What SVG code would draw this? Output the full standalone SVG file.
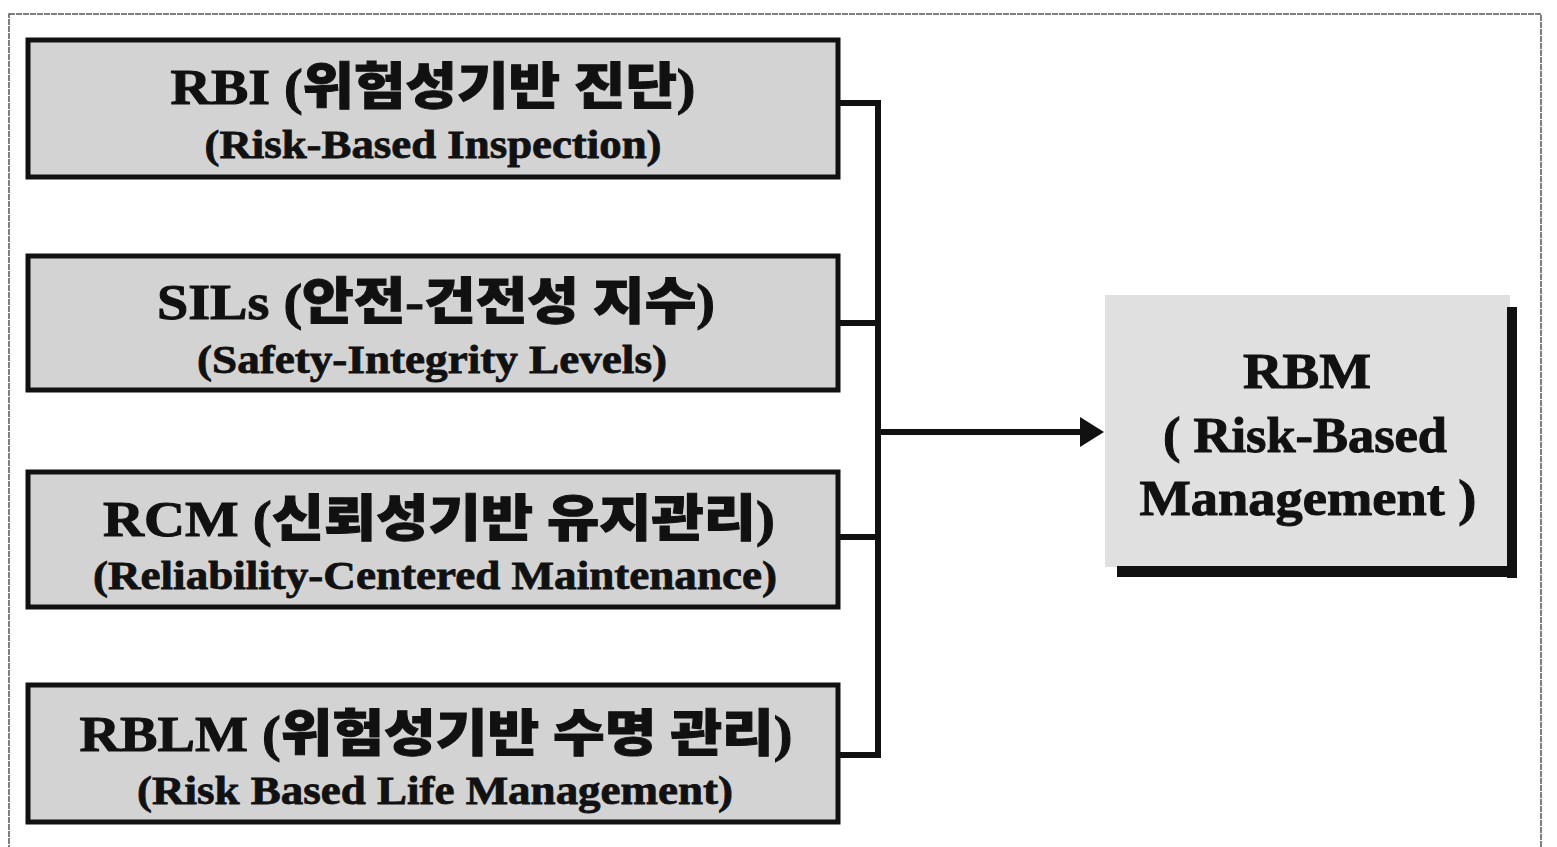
<svg xmlns="http://www.w3.org/2000/svg" width="1557" height="847" viewBox="0 0 1557 847">
<defs>
<style>
.box{fill:#d3d3d3;stroke:#111;stroke-width:5}
.t1{font-family:"Liberation Serif","Noto Sans CJK KR",serif;font-weight:900;font-size:50px;fill:#111;stroke:#111;stroke-width:1;text-anchor:middle}
.t2{font-family:"Liberation Serif","Noto Sans CJK KR",serif;font-weight:900;font-size:41px;fill:#111;stroke:#111;stroke-width:0.8;text-anchor:middle}
.conn{stroke:#111;stroke-width:6;fill:none}
</style>
<marker id="ah" markerWidth="5" markerHeight="5" refX="0" refY="2.5" orient="auto" markerUnits="strokeWidth"><path d="M0,0 L4,2.5 L0,5 Z" fill="#111"/></marker>
</defs>
<rect x="0" y="0" width="1557" height="847" fill="#fff"/>
<rect id="frame" x="9" y="14" width="1532" height="850" fill="none" stroke="#555" stroke-width="1.5" stroke-dasharray="6 1"/>
<g id="rbi">
<rect class="box" x="28" y="40" width="810" height="137"/>
<text class="t1" x="433" y="104" textLength="525" lengthAdjust="spacingAndGlyphs">RBI (위험성기반 진단)</text>
<text class="t2" x="433" y="158" textLength="457" lengthAdjust="spacingAndGlyphs">(Risk-Based Inspection)</text>
</g>
<g id="sils">
<rect class="box" x="28" y="256" width="810" height="134"/>
<text class="t1" x="436" y="319" textLength="558" lengthAdjust="spacingAndGlyphs">SILs (안전-건전성 지수)</text>
<text class="t2" x="432" y="373" textLength="470" lengthAdjust="spacingAndGlyphs">(Safety-Integrity Levels)</text>
</g>
<g id="rcm">
<rect class="box" x="28" y="472" width="810" height="135"/>
<text class="t1" x="439" y="536" textLength="672" lengthAdjust="spacingAndGlyphs">RCM (신뢰성기반 유지관리)</text>
<text class="t2" x="435" y="589" textLength="684" lengthAdjust="spacingAndGlyphs">(Reliability-Centered Maintenance)</text>
</g>
<g id="rblm">
<rect class="box" x="28" y="685" width="810" height="137"/>
<text class="t1" x="436" y="751" textLength="713" lengthAdjust="spacingAndGlyphs">RBLM (위험성기반 수명 관리)</text>
<text class="t2" x="435" y="804" textLength="596" lengthAdjust="spacingAndGlyphs">(Risk Based Life Management)</text>
</g>
<g id="rbm">
<rect x="1105" y="295" width="405" height="272" fill="#e0e0e0"/>
<rect x="1507" y="307" width="10" height="271" fill="#111"/>
<rect x="1117" y="566" width="400" height="11" fill="#111"/>
<text class="t1" x="1307" y="388" textLength="128" lengthAdjust="spacingAndGlyphs">RBM</text>
<text class="t1" x="1305" y="452" textLength="284" lengthAdjust="spacingAndGlyphs">( Risk-Based</text>
<text class="t1" x="1308" y="515" textLength="337" lengthAdjust="spacingAndGlyphs">Management )</text>
</g>
<g id="connectors">
<path class="conn" d="M838,103 H878 V755 H838"/>
<path class="conn" d="M838,323 H878"/>
<path class="conn" d="M838,537 H878"/>
<path class="conn" d="M878,432 H1080" stroke-width="7" marker-end="url(#ah)"/>
</g>
</svg>
